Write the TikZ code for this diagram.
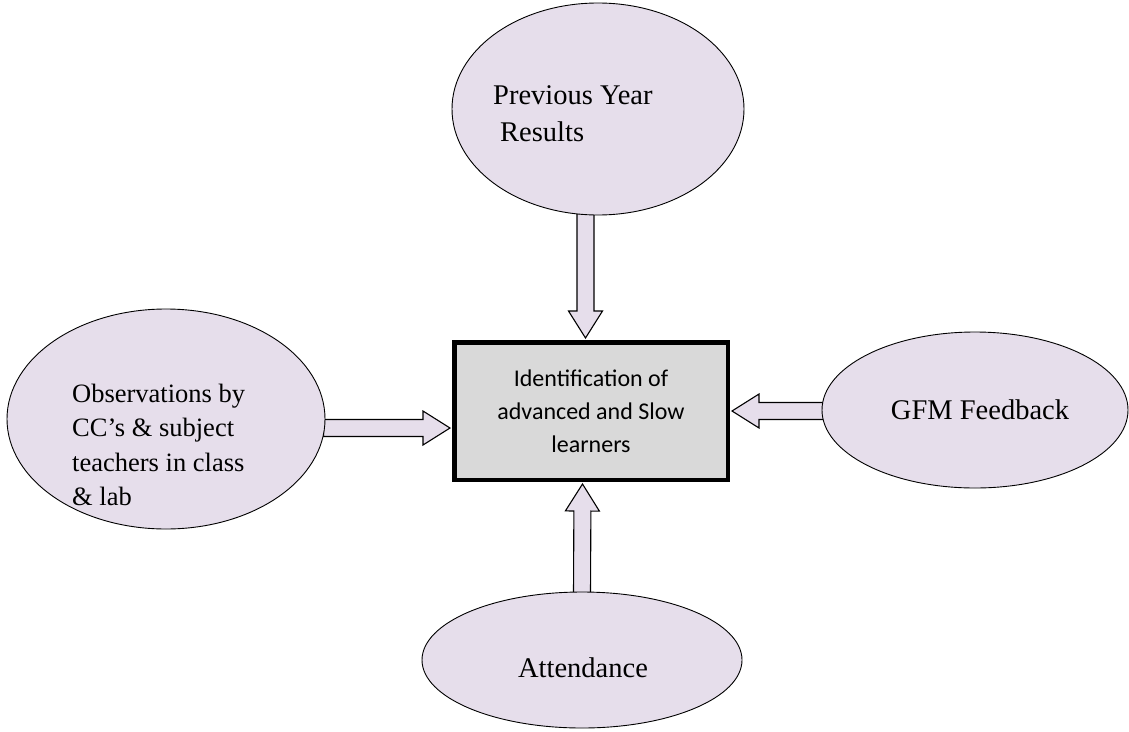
\documentclass[tikz,border=0pt]{standalone}
\usepackage{fontspec}
\setmainfont{Liberation Serif}
\newfontfamily\calib{Carlito}
\usepackage{tikz}
\usetikzlibrary{calc,shapes.geometric,backgrounds}
\definecolor{lav}{HTML}{E6DEEB}
\definecolor{hubbg}{HTML}{D9D9D9}
\tikzset{
  oval/.style={ellipse, draw=black, line width=0.9pt, fill=lav, inner sep=0pt},
  hub/.style={draw=black, line width=4.5pt, fill=hubbg, inner sep=0pt, align=center,
    font=\calib\fontsize{24}{33}\selectfont},
  lab/.style={inner sep=0pt, align=left, font=\fontsize{28.5}{37}\selectfont},
  arr/.style={draw=black, fill=lav, line width=1.1pt, line join=miter},
  rot/.style={shift={(\p1)}, rotate=\n1},
}
% block arrow from #1 to #2
\newcommand{\barrow}[2]{%
  \draw[arr] let \p1=(#1), \p2=(#2),
    \n1={atan2(\y2-\y1,\x2-\x1)}, \n2={veclen(\x2-\x1,\y2-\y1)} in
    ([rot]0pt,8.5pt) -- ([rot]\n2-27pt,8.5pt) -- ([rot]\n2-27pt,17pt) -- ([rot]\n2,0pt)
    -- ([rot]\n2-27pt,-17pt) -- ([rot]\n2-27pt,-8.5pt) -- ([rot]0pt,-8.5pt) -- cycle;}

\begin{document}
\begin{tikzpicture}[x=1pt,y=-1pt]
  \useasboundingbox (0,0) rectangle (1129,731);

  \node[hub, minimum width=273.5pt, minimum height=137.5pt] (box) at (591,411)
    {Identification of\\advanced and Slow\\learners};

  \node[oval, minimum width=292pt, minimum height=212pt] (prev) at (598,109) {};
  \node[lab, anchor=west] (prevtxt) at ($(prev)+(-105,5)$)
    {Previous Year\\\hspace*{7pt}Results};

  \node[oval, minimum width=318pt, minimum height=220pt] (obs) at (166,419) {};
  \node[lab, anchor=west, font=\fontsize{26.5}{34.5}\selectfont] (obstxt) at ($(obs)+(-94,26)$)
    {Observations by\\CC’s \& subject\\teachers in class\\\& lab};

  \node[oval, minimum width=306pt, minimum height=156pt] (gfm) at (975,410) {};
  \node[lab] (gfmtxt) at ($(gfm)+(5,0)$) {GFM Feedback};

  \node[oval, minimum width=320pt, minimum height=136pt] (att) at (582,660) {};
  \node[lab] (atttxt) at ($(att)+(1,8)$) {Attendance};

  % block arrows into the box
  \begin{scope}[on background layer]
    \barrow{$(prev.south)+(-12.5,-2)$}{$(box.north)+(-5.5,-2)$}
    \barrow{$(obs.east)+(-2,9)$}{$(box.west)+(-2,17)$}
    \barrow{$(gfm.west)+(2,1)$}{$(box.east)+(2,0)$}
    \barrow{$(att.north)+(0,2)$}{$(box.south)+(-8.5,2)$}
  \end{scope}
\end{tikzpicture}
\end{document}
